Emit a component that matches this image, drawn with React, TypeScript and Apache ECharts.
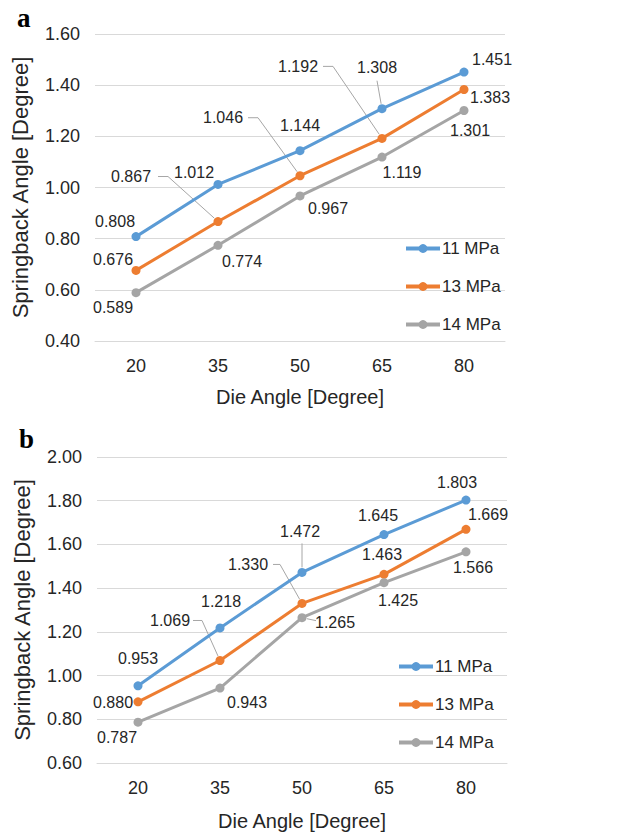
import React, { useEffect, useRef } from "react";
import * as echarts from "echarts";

// ---- data ----
const dieAngles = ["20", "35", "50", "65", "80"];
const seriesNames = ["11 MPa", "13 MPa", "14 MPa"];
const a11 = [0.808, 1.012, 1.144, 1.308, 1.451];
const a13 = [0.676, 0.867, 1.046, 1.192, 1.383];
const a14 = [0.589, 0.774, 0.967, 1.119, 1.301];
const b11 = [0.953, 1.218, 1.472, 1.645, 1.803];
const b13 = [0.88, 1.069, 1.33, 1.463, 1.669];
const b14 = [0.787, 0.943, 1.265, 1.425, 1.566];

// ---- styling ----
const COLORS = ["#5B9BD5", "#ED7D31", "#A5A5A5"];
const FONT = '"Liberation Sans", Arial, sans-serif';
const TEXT = "#262626";

// label offsets (pixels from the point) per series, per point
const labelOffA = [
  [[-21, -15], [-24, -12], [0, -25], [-5, -41], [28, -13]],
  [[-23, -11], [-87, -45], [-77, -58], [-84, -72], [26, 8]],
  [[-23, 15], [24, 16], [28, 13], [20, 15], [6, 20]],
];
const labelOffB = [
  [[0, -27], [1, -26], [-2, -41], [-6, -19], [-9, -18]],
  [[-25, 1], [-50, -40], [-54, -39], [-2, -20], [22, -15]],
  [[-21, 15], [27, 14], [33, 5], [14, 18], [7, 16]],
];
// leader lines: series index, point index, relative polyline start points
const leadersA = [
  { s: 1, i: 1, pts: [[-60, -45], [-50, -45]] },
  { s: 1, i: 2, pts: [[-52, -58], [-42, -58]] },
  { s: 1, i: 3, pts: [[-59, -72], [-49, -72]] },
  { s: 0, i: 3, pts: [[-5, -28]] },
];
const leadersB = [
  { s: 1, i: 1, pts: [[-27, -40], [-18, -40]] },
  { s: 1, i: 2, pts: [[-29, -39], [-22, -39]] },
  { s: 0, i: 2, pts: [[0, -29]] },
  { s: 2, i: 2, pts: [[14, 3]] },
];

function lineSeries(name: string, values: number[], color: string, offs: number[][], axis: number) {
  return {
    type: "line",
    name,
    xAxisIndex: axis,
    yAxisIndex: axis,
    symbol: "circle",
    symbolSize: 9,
    lineStyle: { color, width: 3 },
    itemStyle: { color },
    z: 3,
    label: {
      show: true,
      position: "inside",
      align: "center",
      verticalAlign: "middle",
      color: TEXT,
      fontSize: 16,
      fontFamily: FONT,
      formatter: (p: any) => Number(p.value).toFixed(3),
    },
    data: values.map((v, i) => ({ value: v, label: { offset: offs[i] } })),
  };
}

function leaderSeries(leaders: any[], sets: number[][], axis: number) {
  return {
    type: "custom",
    name: "leaders" + axis,
    xAxisIndex: axis,
    yAxisIndex: axis,
    silent: true,
    z: 2,
    encode: { x: 0, y: 1 },
    data: leaders.map((l) => [l.i, sets[l.s][l.i]]),
    renderItem: (params: any, api: any) => {
      const L = leaders[params.dataIndex];
      const p = api.coord([api.value(0), api.value(1)]);
      const pts = L.pts.map((d: number[]) => [p[0] + d[0], p[1] + d[1]]);
      const last = pts[pts.length - 1];
      const vx = p[0] - last[0];
      const vy = p[1] - last[1];
      const d = Math.hypot(vx, vy) || 1;
      pts.push([p[0] - (vx / d) * 5, p[1] - (vy / d) * 5]);
      return {
        type: "polyline",
        shape: { points: pts },
        style: { stroke: "#A6A6A6", lineWidth: 1, fill: null },
      };
    },
  };
}

function xAxis(grid: number, gap: number) {
  return {
    type: "category",
    gridIndex: grid,
    data: dieAngles,
    boundaryGap: true,
    axisLine: { show: true, lineStyle: { color: "#D9D9D9", width: 1 } },
    axisTick: { show: false },
    axisLabel: { color: TEXT, fontSize: 18, fontFamily: FONT, margin: 16 },
    name: "Die Angle [Degree]",
    nameLocation: "middle",
    nameGap: gap,
    nameTextStyle: { color: TEXT, fontSize: 20, fontFamily: FONT },
  };
}

function yAxis(grid: number, min: number, max: number) {
  return {
    type: "value",
    gridIndex: grid,
    min,
    max,
    interval: 0.2,
    axisLine: { show: false },
    axisTick: { show: false },
    splitLine: { lineStyle: { color: "#D9D9D9", width: 1 } },
    axisLabel: {
      color: TEXT,
      fontSize: 18,
      fontFamily: FONT,
      margin: 15,
      formatter: (v: number) => v.toFixed(2),
    },
    name: "Springback Angle [Degree]",
    nameLocation: "middle",
    nameGap: 64,
    nameTextStyle: { color: TEXT, fontSize: 22, fontFamily: FONT },
  };
}

function legend(left: number, top: number) {
  return {
    orient: "vertical",
    left,
    top,
    padding: 0,
    itemWidth: 34,
    itemHeight: 11,
    itemGap: 21,
    lineStyle: { width: 4 },
    data: seriesNames,
    textStyle: {
      color: TEXT,
      fontSize: 17,
      fontFamily: FONT,
      lineHeight: 14,
      padding: [0, 0, 0, -3],
    },
  };
}

export default function App() {
  const ref = useRef<HTMLDivElement>(null);
  useEffect(() => {
    if (!ref.current) return;
    const chart = echarts.init(ref.current, null, { renderer: "svg" });
    const setsA = [a11, a13, a14];
    const setsB = [b11, b13, b14];
    chart.setOption({
      animation: false,
      backgroundColor: "#ffffff",
      grid: [
        { left: 95, top: 34, width: 410, height: 307 },
        { left: 97, top: 457, width: 410, height: 306 },
      ],
      xAxis: [xAxis(0, 46), xAxis(1, 48)],
      yAxis: [yAxis(0, 0.4, 1.6), yAxis(1, 0.6, 2.0)],
      legend: [legend(404, 240), legend(397, 658)],
      graphic: [
        { type: "text", left: 17, top: 4, style: { text: "a", font: 'bold 27px "Liberation Serif", serif', fill: "#000" } },
        { type: "text", left: 19, top: 425, style: { text: "b", font: 'bold 27px "Liberation Serif", serif', fill: "#000" } },
      ],
      series: [
        ...setsA.map((s, k) => lineSeries(seriesNames[k], s, COLORS[k], labelOffA[k], 0)),
        ...setsB.map((s, k) => lineSeries(seriesNames[k], s, COLORS[k], labelOffB[k], 1)),
        leaderSeries(leadersA, setsA, 0),
        leaderSeries(leadersB, setsB, 1),
      ],
    });
    return () => chart.dispose();
  }, []);
  return (
    <div
      ref={ref}
      style={{ position: "absolute", left: 0, top: 0, width: 644, height: 833, background: "#fff" }}
    />
  );
}
